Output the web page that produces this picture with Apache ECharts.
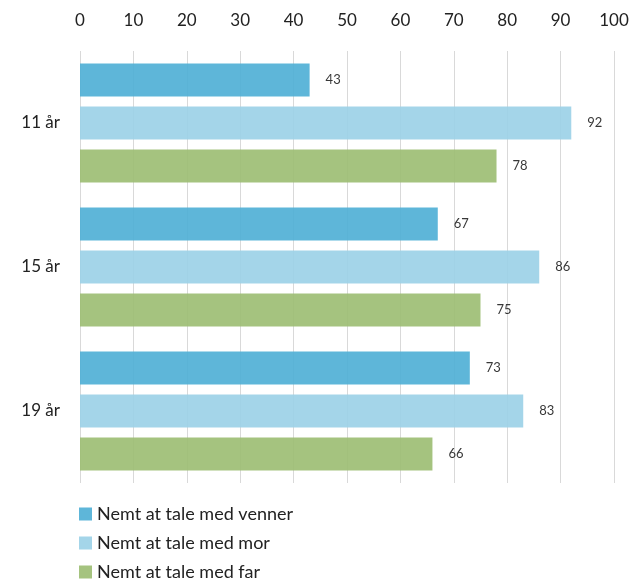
<!DOCTYPE html>
<html>
<head>
<meta charset="utf-8">
<script src="https://cdn.jsdelivr.net/npm/echarts@6/dist/echarts.min.js"></script>
<style>
  html, body { margin: 0; padding: 0; background: #fff; }
  #chart { width: 634px; height: 580px; }
</style>
</head>
<body>
<div id="chart"></div>
<script>
// data
var ages = ['11 år', '15 år', '19 år'];
var venner = [43, 67, 73];
var mor = [92, 86, 83];
var far = [78, 75, 66];
var xTicks = [0, 100, 10]; // min, max, interval

var myChart = echarts.init(document.getElementById('chart'));
var font = 'Lato, "Open Sans", sans-serif';

function bar(name, data, color) {
  return {
    name: name,
    type: 'bar',
    data: data,
    barWidth: 33,
    barGap: '30%',
    itemStyle: { color: color, opacity: 0.9 },
    label: {
      show: true,
      position: 'right',
      distance: 16,
      fontSize: 13,
      fontFamily: font,
      color: '#222'
    }
  };
}

var option = {
  animation: false,
  textStyle: { fontFamily: font },
  grid: { left: 80, right: 20, top: 51, bottom: 97 },
  legend: {
    orient: 'vertical',
    left: 79,
    top: 505,
    height: 90,
    padding: 0,
    itemWidth: 13,
    itemHeight: 13,
    itemGap: 11,
    icon: 'rect',
    textStyle: { fontSize: 18, color: '#222', fontFamily: font },
    data: ['Nemt at tale med venner', 'Nemt at tale med mor', 'Nemt at tale med far']
  },
  xAxis: {
    type: 'value',
    position: 'top',
    min: xTicks[0],
    max: xTicks[1],
    interval: xTicks[2],
    axisLine: { show: false },
    axisTick: { show: false },
    axisLabel: { fontSize: 17, color: '#222', margin: 22, fontFamily: font },
    splitLine: { lineStyle: { color: '#d9d9d9', width: 1 } }
  },
  yAxis: {
    type: 'category',
    inverse: true,
    data: ages,
    axisLine: { show: false },
    axisTick: { show: false },
    axisLabel: { fontSize: 17, color: '#222', margin: 20, fontFamily: font }
  },
  series: [
    bar('Nemt at tale med venner', venner, '#4daed5'),
    bar('Nemt at tale med mor', mor, '#9ad0e7'),
    bar('Nemt at tale med far', far, '#9bbd71')
  ]
};

myChart.setOption(option);
</script>
</body>
</html>
